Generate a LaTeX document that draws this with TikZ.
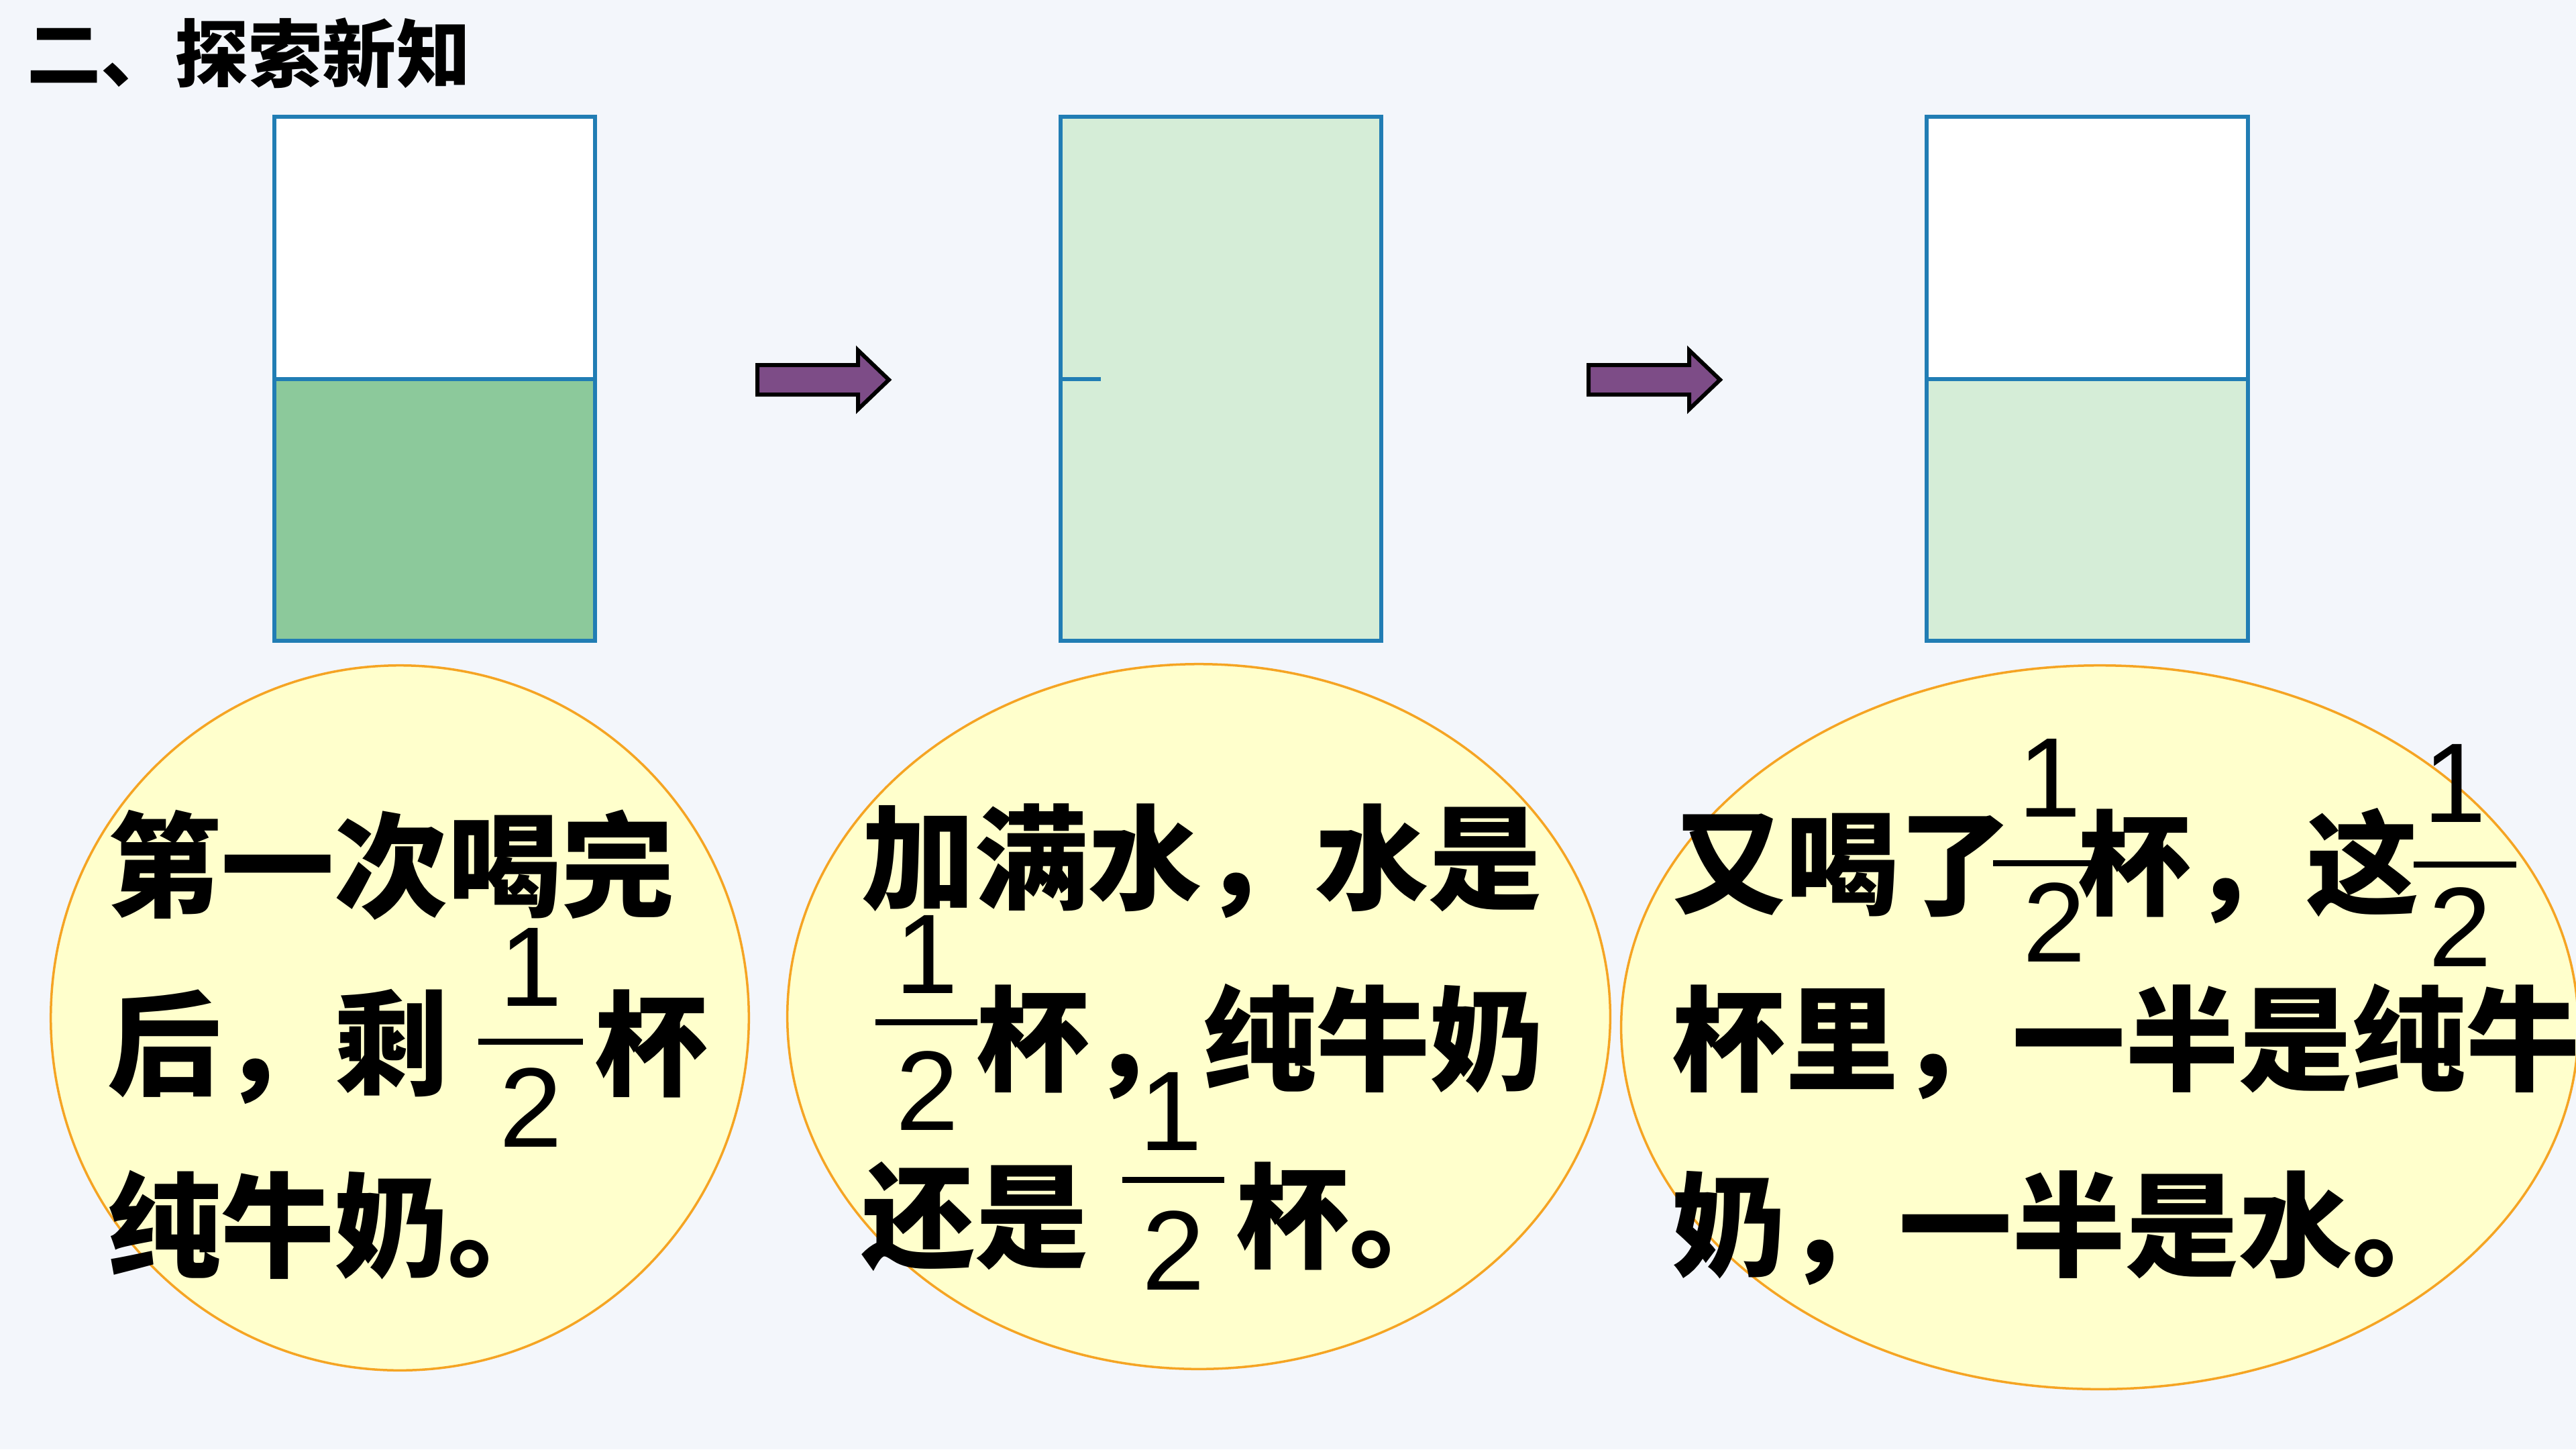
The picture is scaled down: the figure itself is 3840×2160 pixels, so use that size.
\documentclass[tikz,border=0pt]{standalone}
\usepackage{fontspec}
\setmainfont{Liberation Sans}
\newfontfamily\cjk{Noto Sans CJK SC}
\usetikzlibrary{shapes.geometric,calc}
\definecolor{bgcol}{RGB}{243,246,251}
\definecolor{cupblue}{RGB}{33,125,180}
\definecolor{milkdark}{RGB}{140,201,155}
\definecolor{milklight}{RGB}{213,237,215}
\definecolor{bubblefill}{RGB}{255,255,204}
\definecolor{bubbleline}{RGB}{245,164,35}
\definecolor{arrowpurple}{RGB}{125,76,135}
\newcommand\titlefont{\cjk\bfseries\fontsize{31.3pt}{33pt}\selectfont}
\newcommand\bigcjk{\cjk\bfseries\fontsize{48.1pt}{50pt}\selectfont}
\newcommand\digfont{\fontsize{48pt}{50pt}\selectfont}
\tikzset{
  cjktext/.style={anchor=base west, inner sep=0pt, outer sep=0pt, font=\bigcjk},
  digit/.style={anchor=base, inner sep=0pt, outer sep=0pt, font=\digfont},
  fracbar/.style={line width=0.09cm},
  cupbox/.style={rectangle, minimum width=4.78cm, minimum height=7.81cm, inner sep=0pt, outer sep=0pt},
  cupline/.style={draw=cupblue, line width=0.06cm},
  bubble/.style={ellipse, draw=bubbleline, fill=bubblefill, line width=0.035cm, inner sep=0pt, outer sep=0pt},
  flowarrow/.style={draw=black, fill=arrowpurple, line width=0.06cm, line join=miter},
}
\begin{document}
\begin{tikzpicture}[x=0.01cm,y=-0.01cm]
\useasboundingbox (0,0) rectangle (3840,2160);
\fill[bgcol] (0,0) rectangle (3840,2160);
% title
\node[anchor=base west, inner sep=0pt, font=\titlefont] (title) at (40,121) {二、探索新知};
% cups
\node[cupbox, fill=white] (c1) at (648,564.5) {};
\fill[milkdark] (c1.south west) rectangle (c1.east);
\draw[cupline] (c1.south west) rectangle (c1.north east);
\draw[cupline] (c1.west) -- (c1.east);
\node[cupbox, fill=milklight] (c2) at (1820,564.5) {};
\draw[cupline] (c2.south west) rectangle (c2.north east);
\coordinate (c2tick) at ($(c2.west)+(60,0)$);
\draw[cupline] (c2.west) -- (c2tick);
\node[cupbox, fill=white] (c3) at (3111.5,564.5) {};
\fill[milklight] (c3.south west) rectangle (c3.east);
\draw[cupline] (c3.south west) rectangle (c3.north east);
\draw[cupline] (c3.west) -- (c3.east);
% arrows
\coordinate (a1) at (1129,566);
\draw[flowarrow] (a1) ++(0,-22) -- ++(150,0) -- ++(0,-22) -- ++(46,44) -- ++(-46,44) -- ++(0,-22) -- ++(-150,0) -- cycle;
\coordinate (a2) at (2368,566);
\draw[flowarrow] (a2) ++(0,-22) -- ++(150,0) -- ++(0,-22) -- ++(46,44) -- ++(-46,44) -- ++(0,-22) -- ++(-150,0) -- cycle;
% bubbles
\node[bubble, minimum width=10.4cm, minimum height=10.5cm] (e1) at (596,1517) {};
\node[bubble, minimum width=12.26cm, minimum height=10.5cm] (e2) at (1787,1515) {};
\node[bubble, minimum width=14.26cm, minimum height=10.78cm] (e3) at (3130,1531) {};
% bubble 1 text
\node[cjktext] (t11) at (160,1353) {第一次喝完};
\node[cjktext] (t12) at (160,1619) {后，剩};
\node[digit] (f1n) at (791,1499) {1};
\draw[fracbar] (713,1552) coordinate (f1a) -- (869,1552) coordinate (f1b);
\node[digit] (f1d) at (791,1709) {2};
\node[cjktext] (t12b) at (886,1619) {杯};
\node[cjktext] (t13) at (160,1890) {纯牛奶。};
% bubble 2 text
\node[cjktext] (t21) at (1284,1342) {加满水，水是};
\node[digit] (f2n) at (1381,1480) {1};
\draw[fracbar] (1305,1523) coordinate (f2a) -- (1457,1523) coordinate (f2b);
\node[digit] (f2d) at (1382,1684) {2};
\node[cjktext] (t22) at (1455,1612) {杯，};
\node[digit] (f3n) at (1745,1714) {1};
\node[cjktext] (t22b) at (1793,1612) {纯牛奶};
\node[cjktext] (t23) at (1284,1876) {还是};
\draw[fracbar] (1673,1758) coordinate (f3a) -- (1825,1758) coordinate (f3b);
\node[digit] (f3d) at (1749,1922) {2};
\node[cjktext] (t23b) at (1842,1876) {杯。};
% bubble 3 text
\node[cjktext] (t31) at (2492,1350) {又喝了};
\node[digit] (f4n) at (3055,1217) {1};
\draw[fracbar] (2971,1286) coordinate (f4a) -- (3135,1286) coordinate (f4b);
\node[digit] (f4d) at (3062,1433) {2};
\node[cjktext] (t31b) at (3097,1350) {杯，};
\node[cjktext] (t31c) at (3437,1350) {这};
\node[digit] (f5n) at (3659,1225) {1};
\draw[fracbar] (3598,1288) coordinate (f5a) -- (3751,1288) coordinate (f5b);
\node[digit] (f5d) at (3667,1440) {2};
\node[cjktext] (t32) at (2492,1612) {杯里，一半是纯牛};
\node[cjktext] (t33) at (2492,1889) {奶，一半是水。};
\end{tikzpicture}
\end{document}
